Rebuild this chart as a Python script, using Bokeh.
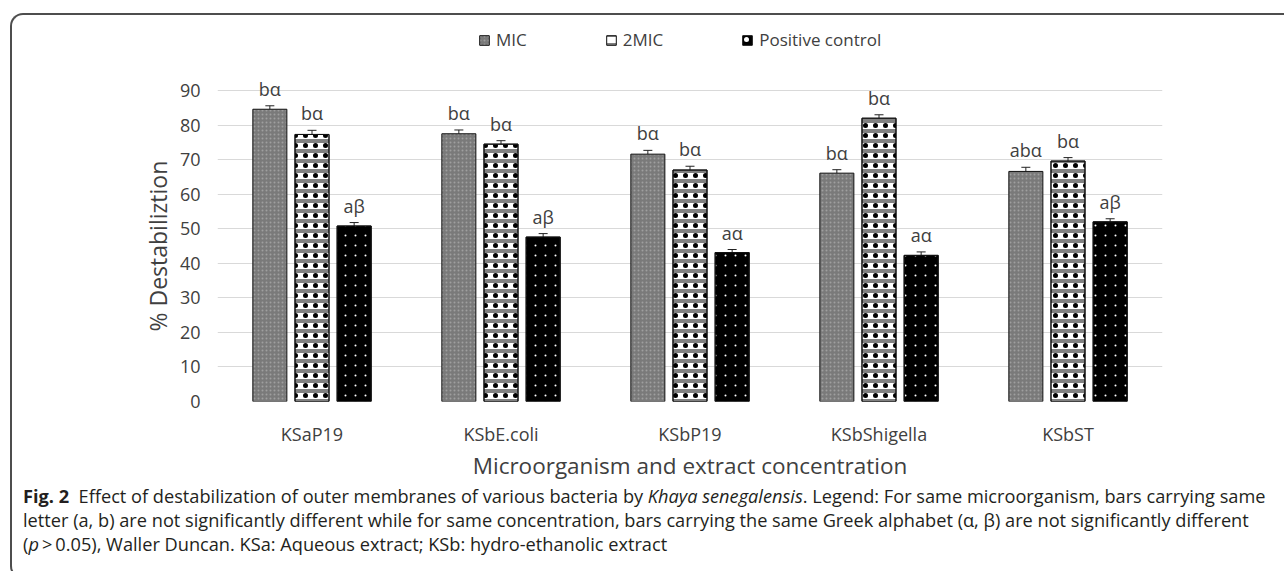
from bokeh.plotting import figure
from bokeh.layouts import column
from bokeh.models import (ColumnDataSource, FactorRange, Range1d, Whisker, Legend, LegendItem,
                          TeeHead, FixedTicker, Div, InlineStyleSheet, Title)
from bokeh.transform import dodge
from bokeh.core.properties import value
from bokeh.embed import file_html
from bokeh.resources import INLINE

# ---------------- data ----------------
categories = ["KSaP19", "KSbE.coli", "KSbP19", "KSbShigella", "KSbST"]
series = ["MIC", "2MIC", "Positive control"]
mic = [84.6, 77.5, 71.6, 66.1, 66.6]
mic2 = [77.3, 74.5, 67.0, 82.0, 69.6]
pos = [50.8, 47.6, 43.1, 42.3, 52.0]
mic_err = [1.0, 1.1, 1.1, 1.0, 1.2]
mic2_err = [1.2, 1.0, 1.1, 1.0, 1.0]
pos_err = [1.0, 1.0, 0.9, 1.0, 0.9]
mic_lab = ["bα", "bα", "bα", "bα", "abα"]
mic2_lab = ["bα", "bα", "bα", "bα", "bα"]
pos_lab = ["aβ", "aβ", "aα", "aα", "aβ"]
y_ticks = [0, 10, 20, 30, 40, 50, 60, 70, 80, 90]
x_title = "Microorganism and extract concentration"
y_title = "% Destabiliztion"

FONT = "Open Sans"
TXT = "#404040"

p = figure(x_range=FactorRange(*categories, range_padding=0), y_range=Range1d(0, 110),
           width=1268, height=483, output_backend="svg", toolbar_location=None,
           min_border_left=217, min_border_right=106, min_border_top=21, min_border_bottom=81)
p.outline_line_color = None
p.background_fill_color = "white"
p.border_fill_color = "white"

offsets = [-0.223, 0.0, 0.223]
vals = [mic, mic2, pos]
errs = [mic_err, mic2_err, pos_err]
labs = [mic_lab, mic2_lab, pos_lab]
BW = 0.18

renderers = []
for k in range(3):
    src = ColumnDataSource(dict(cat=categories, val=vals[k],
                                upper=[v + e for v, e in zip(vals[k], errs[k])],
                                lab=labs[k]))
    xd = dodge("cat", offsets[k], range=p.x_range)
    if k == 0:
        r = p.vbar(x=xd, top="val", width=BW, source=src, fill_color="#7a7a7a",
                   hatch_pattern="dot", hatch_scale=4, hatch_color="#b8b8b8", hatch_alpha=0.6,
                   line_color="#111111", line_width=1)
    elif k == 1:
        r = p.vbar(x=xd, top="val", width=BW, source=src, fill_color="#808080",
                   hatch_pattern="horizontal_line", hatch_scale=10, hatch_weight=6,
                   hatch_color="#ffffff", line_color="#111111", line_width=1)
        p.vbar(x=xd, top="val", width=BW, source=src, fill_alpha=0,
               hatch_pattern="dot", hatch_scale=10,
               hatch_color="#000000", line_color="#111111", line_width=1)
    else:
        r = p.vbar(x=xd, top="val", width=BW, source=src, fill_color="#000000",
                   hatch_pattern="dot", hatch_scale=10, hatch_color="#ffffff",
                   line_color="#111111", line_width=1)
        p.vbar(x=xd, top="val", width=BW, source=src, fill_alpha=0,
               hatch_pattern="ring", hatch_scale=10, hatch_weight=3, hatch_color="#000000",
               line_color="#111111", line_width=1)
    renderers.append(r)
    w = Whisker(base=xd, upper="upper", lower="val", source=src, line_color="#222222",
                line_width=1, upper_head=TeeHead(size=9, line_color="#222222", line_width=1),
                lower_head=None)
    p.add_layout(w)
    p.text(x=xd, y="upper", text="lab", source=src, text_align="center",
           text_baseline="bottom", y_offset=-5, text_font=value(FONT),
           text_font_size="18px", text_color=TXT)

legend = Legend(items=[LegendItem(label=s, renderers=[r]) for s, r in zip(series, renderers)],
                location=(261, 350), orientation="horizontal")
legend.padding = 0
legend.margin = 0
legend.spacing = 78
legend.label_standoff = 6
legend.glyph_width = 12
legend.glyph_height = 12
legend.label_height = 20
legend.label_text_font = FONT
legend.label_text_font_size = "17px"
legend.label_text_color = TXT
legend.border_line_color = None
legend.background_fill_alpha = 0
p.add_layout(legend)

p.xgrid.grid_line_color = None
p.ygrid.grid_line_color = "#d9d9d9"
p.ygrid.grid_line_width = 1
p.yaxis.ticker = FixedTicker(ticks=y_ticks)
for ax in (p.xaxis, p.yaxis):
    ax.axis_line_color = None
    ax.major_tick_line_color = None
    ax.minor_tick_line_color = None
    ax.major_tick_out = 0
    ax.major_tick_in = 0
    ax.minor_tick_out = 0
    ax.minor_tick_in = 0
    ax.major_label_text_font = FONT
    ax.major_label_text_font_size = "18px"
    ax.major_label_text_color = TXT
    ax.axis_label_text_font = FONT
    ax.axis_label_text_font_style = "normal"
    ax.axis_label_text_color = TXT
p.xaxis.axis_label_text_font_size = "22.5px"
p.yaxis.major_label_standoff = 17
p.xaxis.major_label_standoff = 20
p.xaxis.axis_label = x_title
p.xaxis.axis_label_standoff = 1

# y-axis title: centred on the 0-90 span (the frame also holds the legend above 90)
ytitle = Title(text=y_title, align="left", offset=70, standoff=5,
               text_font=FONT, text_font_size="23px", text_font_style="normal",
               text_color=TXT)
p.add_layout(ytitle, "left")

# ---------------- caption ----------------
caption_html = (
    "<div style=\"position:relative;top:-6px;font-family:'Open Sans',sans-serif;font-size:18.2px;"
    "line-height:24px;color:#231f20;white-space:nowrap;padding:2px 0 0 18px;\">"
    "<b>Fig. 2</b>&nbsp; Effect of destabilization of outer membranes of various bacteria by "
    "<i>Khaya senegalensis</i>. Legend: For same microorganism, bars carrying same<br>"
    "letter (a, b) are not significantly different while for same concentration, bars carrying "
    "the same Greek alphabet (α, β) are not significantly different<br>"
    "(<i>p</i>&thinsp;&gt;&thinsp;0.05), Waller Duncan. KSa: Aqueous extract; KSb: hydro-ethanolic extract"
    "</div>"
)
cap = Div(text=caption_html, width=1268, height=72)

frame_css = InlineStyleSheet(css="""
:host { position: relative; }
:host::after {
  content: ''; position: absolute; left: 10px; top: 13px; right: -14px; bottom: -14px;
  border-top: 2px solid #4d4d4d; border-left: 2px solid #4d4d4d;
  border-bottom: 2px solid #4d4d4d;
  border-top-left-radius: 13px; border-bottom-left-radius: 13px;
  pointer-events: none; z-index: 10;
}
""")

layout = column(p, cap, spacing=0, stylesheets=[frame_css])
open("out.html", "w").write(file_html(layout, INLINE))
